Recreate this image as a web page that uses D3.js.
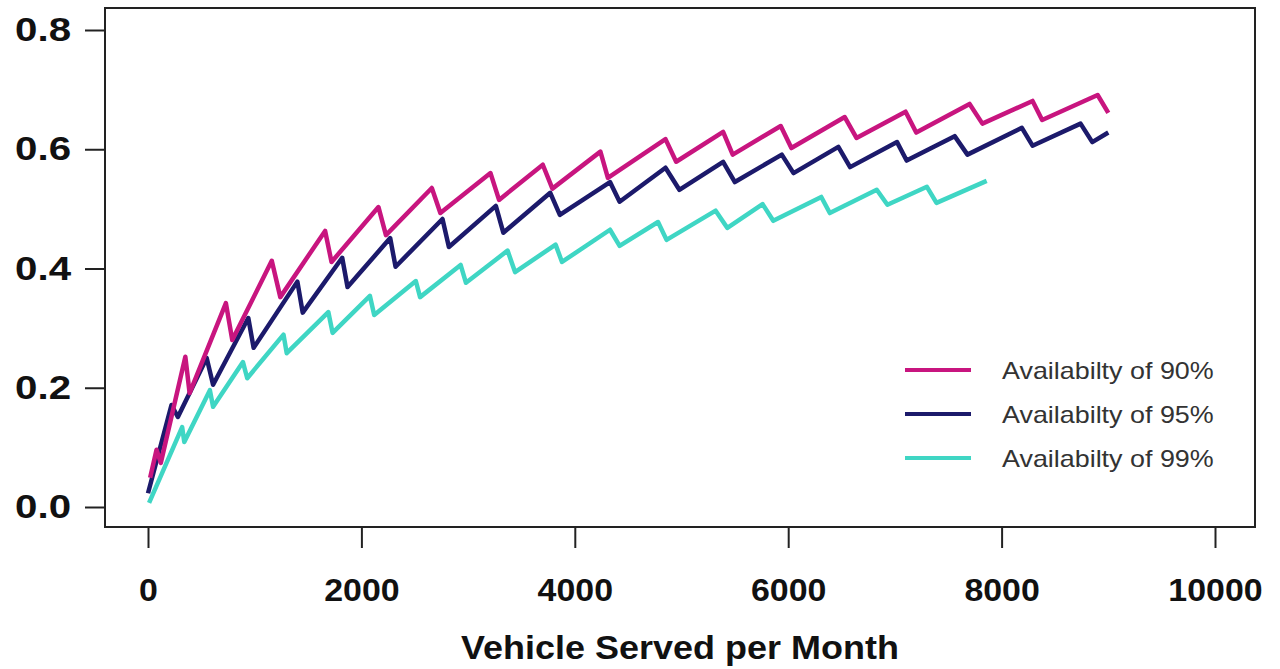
<!DOCTYPE html>
<html>
<head>
<meta charset="utf-8">
<script src="https://cdn.jsdelivr.net/npm/d3@7"></script>
<style>
  body { margin: 0; background: #fff; }
  text { font-family: "Liberation Sans", Arial, sans-serif; }
</style>
</head>
<body>
<div id="chart"></div>
<script>
// vertices of each sawtooth curve (vehicles per month, ratio)
const avail90X = [20, 80, 120, 350, 390, 730, 790, 1160, 1240, 1660, 1720, 2160, 2230, 2660, 2740, 3210, 3290, 3700, 3790, 4240, 4310, 4850, 4950, 5390, 5480, 5930, 6030, 6530, 6640, 7100, 7200, 7700, 7820, 8290, 8380, 8900, 9000]
const avail90Y = [0.049, 0.096, 0.074, 0.252, 0.191, 0.342, 0.280, 0.413, 0.352, 0.463, 0.411, 0.503, 0.456, 0.535, 0.493, 0.560, 0.515, 0.574, 0.534, 0.596, 0.552, 0.617, 0.579, 0.629, 0.591, 0.639, 0.602, 0.654, 0.619, 0.663, 0.628, 0.676, 0.643, 0.681, 0.649, 0.691, 0.661]

const avail95X = [0, 220, 280, 550, 610, 940, 990, 1400, 1450, 1820, 1870, 2270, 2320, 2760, 2820, 3260, 3330, 3770, 3860, 4330, 4420, 4850, 4980, 5390, 5500, 5940, 6050, 6470, 6580, 7020, 7110, 7560, 7680, 8190, 8290, 8740, 8850, 9000]
const avail95Y = [0.023, 0.171, 0.151, 0.250, 0.205, 0.317, 0.267, 0.378, 0.326, 0.418, 0.369, 0.451, 0.403, 0.483, 0.436, 0.505, 0.460, 0.527, 0.490, 0.545, 0.512, 0.569, 0.532, 0.579, 0.545, 0.591, 0.560, 0.604, 0.570, 0.612, 0.581, 0.622, 0.591, 0.636, 0.606, 0.643, 0.612, 0.628]

const avail99X = [10, 320, 340, 580, 610, 890, 930, 1270, 1300, 1690, 1730, 2080, 2120, 2510, 2550, 2930, 2980, 3370, 3440, 3820, 3880, 4330, 4420, 4780, 4860, 5320, 5430, 5760, 5860, 6310, 6390, 6830, 6930, 7300, 7390, 7860]
const avail99Y = [0.007, 0.134, 0.109, 0.196, 0.168, 0.243, 0.216, 0.289, 0.258, 0.327, 0.292, 0.354, 0.322, 0.379, 0.352, 0.406, 0.376, 0.430, 0.394, 0.440, 0.411, 0.465, 0.438, 0.478, 0.448, 0.497, 0.468, 0.508, 0.480, 0.520, 0.493, 0.532, 0.507, 0.537, 0.510, 0.547]

const seriesNames = ["Availabilty of 90%", "Availabilty of 95%", "Availabilty of 99%"]
const seriesColors = ["#c8157f", "#1c1a6b", "#3fd6c4"]
const xTicks = [0, 2000, 4000, 6000, 8000, 10000]
const yTicks = [0.0, 0.2, 0.4, 0.6, 0.8]

const width = 1280
const height = 669

const svg = d3.select("#chart")
  .append("svg")
    .attr("width", width)
    .attr("height", height)

// widen text a bit, the original is horizontally stretched
function stretch(sel, k) {
  sel.each(function() {
    const len = this.getComputedTextLength()
    d3.select(this)
      .attr("textLength", len * k)
      .attr("lengthAdjust", "spacingAndGlyphs")
  })
}

// scales (0 -> 148px, 10000 -> 1215px ; 0 -> 507px, 0.8 -> 30px)
const x = d3.scaleLinear().domain([0, 10000]).range([148, 1215])
const y = d3.scaleLinear().domain([0, 0.8]).range([507, 30])

// plot box
svg.append("rect")
  .attr("x", 105).attr("y", 8)
  .attr("width", 1150).attr("height", 519)
  .attr("fill", "none")
  .attr("stroke", "#222")
  .attr("stroke-width", 2)

// x axis
const xAxis = svg.append("g")
  .attr("transform", "translate(0,527)")
  .call(d3.axisBottom(x).tickValues(xTicks).tickSize(21).tickPadding(30).tickFormat(d3.format("d")))
xAxis.select(".domain").remove()
xAxis.selectAll("line").attr("stroke", "#222").attr("stroke-width", 2)
xAxis.selectAll("text")
  .attr("fill", "#111")
  .style("font-size", "32px")
  .style("font-weight", "bold")
  .call(stretch, 1.06)

// y axis
const yAxis = svg.append("g")
  .attr("transform", "translate(105,0)")
  .call(d3.axisLeft(y).tickValues(yTicks).tickSize(20).tickPadding(14).tickFormat(d3.format(".1f")))
yAxis.select(".domain").remove()
yAxis.selectAll("line").attr("stroke", "#222").attr("stroke-width", 2)
yAxis.selectAll("text")
  .attr("fill", "#111")
  .style("font-size", "33px")
  .style("font-weight", "bold")
  .call(stretch, 1.22)

// x axis title
svg.append("text")
  .attr("x", 680)
  .attr("y", 659)
  .attr("text-anchor", "middle")
  .attr("fill", "#111")
  .style("font-size", "33px")
  .style("font-weight", "bold")
  .text("Vehicle Served per Month")
  .call(stretch, 1.09)

// lines
const series = [
  { name: seriesNames[0], color: seriesColors[0], xs: avail90X, ys: avail90Y },
  { name: seriesNames[1], color: seriesColors[1], xs: avail95X, ys: avail95Y },
  { name: seriesNames[2], color: seriesColors[2], xs: avail99X, ys: avail99Y }
]

const line = d3.line()
  .x(d => x(d[0]))
  .y(d => y(d[1]))

// draw 99 first so the darker lines sit on top
svg.append("g")
  .selectAll("path")
  .data(series.slice().reverse())
  .join("path")
    .attr("d", d => line(d.xs.map((v, i) => [v, d.ys[i]])))
    .attr("fill", "none")
    .attr("stroke", d => d.color)
    .attr("stroke-width", 4.5)
    .attr("stroke-linejoin", "round")

// legend
const legend = svg.append("g")
  .attr("transform", "translate(905,370)")
const legendItems = legend.selectAll(".legend-item")
  .data(series)
  .join("g")
    .attr("class", "legend-item")
    .attr("transform", (d, i) => `translate(0, ${i * 44})`)
legendItems.append("line")
  .attr("x1", 0).attr("x2", 66)
  .attr("stroke", d => d.color)
  .attr("stroke-width", 4)
legendItems.append("text")
  .attr("x", 97)
  .attr("y", 9)
  .attr("fill", "#333")
  .style("font-size", "24px")
  .text(d => d.name)
  .call(stretch, 1.12)
</script>
</body>
</html>
